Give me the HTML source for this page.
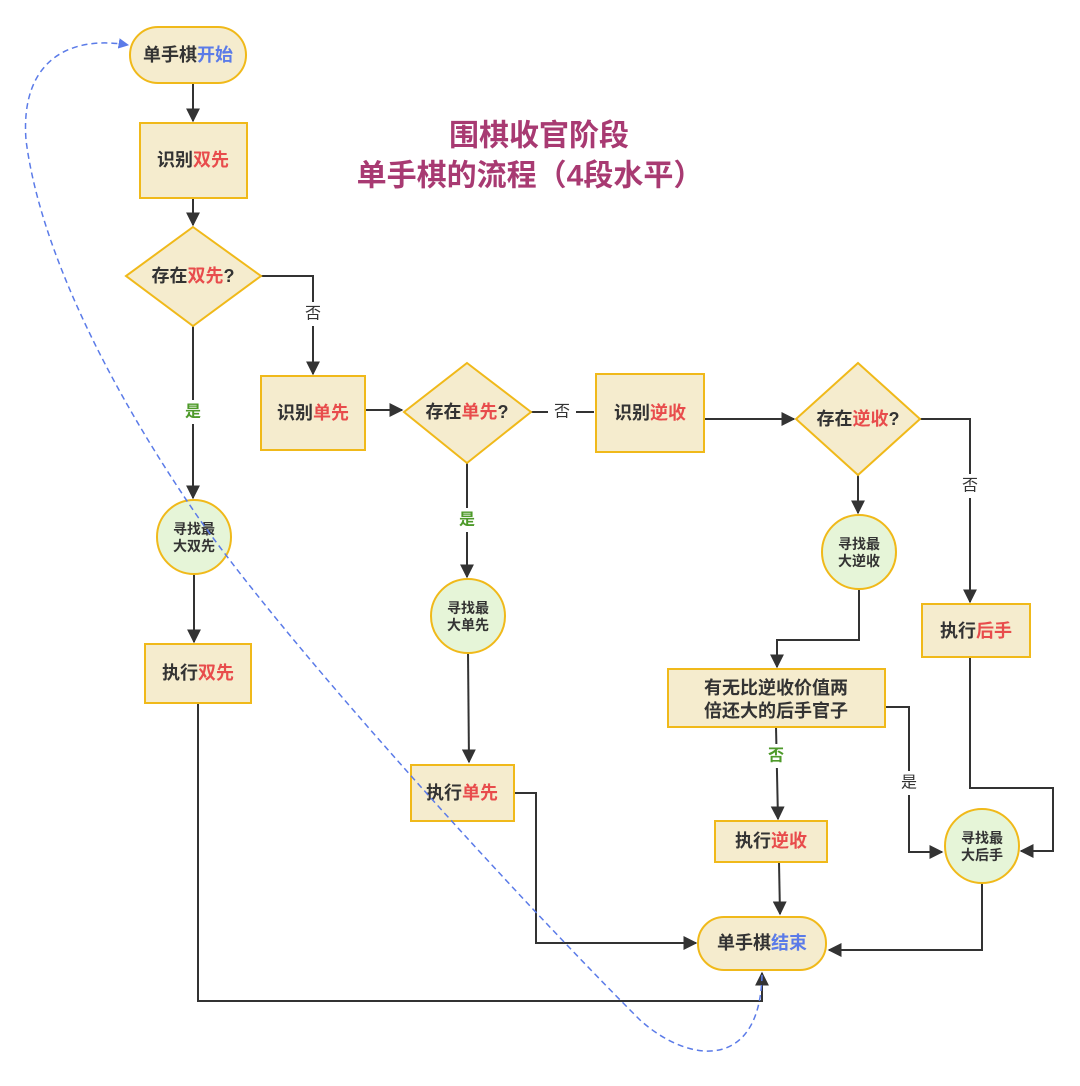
<!DOCTYPE html>
<html><head><meta charset="utf-8"><style>
html,body{margin:0;padding:0;background:#fff}
svg text{font-family:"Liberation Sans","Noto Sans CJK SC",sans-serif;font-weight:bold;fill:#333;text-anchor:middle;dominant-baseline:central}
.r{fill:#e84c4c}.b{fill:#5b7be8}.g{fill:#4e9a2a}
</style></head><body>
<svg width="1080" height="1081" viewBox="0 0 1080 1081" xmlns="http://www.w3.org/2000/svg">
<defs>
<marker id="a" viewBox="0 0 10 10" refX="9" refY="5" markerWidth="7" markerHeight="7" orient="auto-start-reverse"><path d="M0,0L10,5L0,10z" fill="#333"/></marker>
<marker id="ab" viewBox="0 0 10 10" refX="9" refY="5" markerWidth="7" markerHeight="7" orient="auto"><path d="M0,0L10,5L0,10z" fill="#5b7be8"/></marker>
</defs>
<g fill="none" stroke="#333" stroke-width="2">
<path d="M193,83V121" marker-end="url(#a)"/>
<path d="M193,198V225" marker-end="url(#a)"/>
<path d="M261,276H313V374" marker-end="url(#a)"/>
<path d="M193,326V498" marker-end="url(#a)"/>
<path d="M194,574V642" marker-end="url(#a)"/>
<path d="M198,703V1001H762V973" marker-end="url(#a)"/>
<path d="M365,410H402" marker-end="url(#a)"/>
<path d="M531,412H594"/>
<path d="M704,419H794" marker-end="url(#a)"/>
<path d="M920,419H970V602" marker-end="url(#a)"/>
<path d="M970,657V788H1053V851H1021" marker-end="url(#a)"/>
<path d="M858,475V513" marker-end="url(#a)"/>
<path d="M859,590V640H777V667" marker-end="url(#a)"/>
<path d="M885,707H909V852H942" marker-end="url(#a)"/>
<path d="M776,727L778,819" marker-end="url(#a)"/>
<path d="M779,862L780,914" marker-end="url(#a)"/>
<path d="M467,463V577" marker-end="url(#a)"/>
<path d="M468,653L469,762" marker-end="url(#a)"/>
<path d="M514,793H536V943H696" marker-end="url(#a)"/>
<path d="M982,883V950H829" marker-end="url(#a)"/>
</g>
<!-- label backgrounds -->
<g fill="#fff"><rect x="300" y="302" width="26" height="24"/><rect x="180" y="400" width="26" height="24"/><rect x="548" y="400" width="28" height="24"/><rect x="957" y="474" width="26" height="24"/><rect x="454" y="508" width="26" height="24"/><rect x="763" y="744" width="26" height="24"/><rect x="896" y="771" width="26" height="24"/></g>
<text x="313" y="314" style="font-weight:normal">否</text>
<text x="193" y="412" class="g">是</text>
<text x="562" y="412" style="font-weight:normal">否</text>
<text x="970" y="486" style="font-weight:normal">否</text>
<text x="467" y="520" class="g">是</text>
<text x="776" y="756" class="g">否</text>
<text x="909" y="783" style="font-weight:normal">是</text>
<g fill="#f5ecce" stroke="#f0b91a" stroke-width="2">
<rect x="130" y="27" width="116" height="56" rx="28"/>
<rect x="140" y="123" width="107" height="75"/>
<path d="M193,227L261,276L193,326L126,276z"/>
<rect x="261" y="376" width="104" height="74"/>
<path d="M467,363L531,412L467,463L404,412z"/>
<rect x="596" y="374" width="108" height="78"/>
<path d="M858,363L920,419L858,475L796,419z"/>
<rect x="922" y="604" width="108" height="53"/>
<rect x="668" y="669" width="217" height="58"/>
<rect x="715" y="821" width="112" height="41"/>
<rect x="698" y="917" width="128" height="53" rx="26"/>
<rect x="145" y="644" width="106" height="59"/>
<rect x="411" y="765" width="103" height="56"/>
</g>
<g fill="#e6f5d8" stroke="#f0b91a" stroke-width="2">
<circle cx="194" cy="537" r="37"/><circle cx="468" cy="616" r="37"/><circle cx="859" cy="552" r="37"/><circle cx="982" cy="846" r="37"/>
</g>
<g font-size="18">
<text x="188" y="55">单手棋<tspan class="b">开始</tspan></text>
<text x="193" y="160">识别<tspan class="r">双先</tspan></text>
<text x="193" y="276">存在<tspan class="r">双先</tspan>?</text>
<text x="313" y="413">识别<tspan class="r">单先</tspan></text>
<text x="467" y="412">存在<tspan class="r">单先</tspan>?</text>
<text x="650" y="413">识别<tspan class="r">逆收</tspan></text>
<text x="858" y="419">存在<tspan class="r">逆收</tspan>?</text>
<text x="976" y="631">执行<tspan class="r">后手</tspan></text>
<text x="776" y="688">有无比逆收价值两</text>
<text x="776" y="711">倍还大的后手官子</text>
<text x="771" y="841">执行<tspan class="r">逆收</tspan></text>
<text x="762" y="943">单手棋<tspan class="b">结束</tspan></text>
<text x="198" y="673">执行<tspan class="r">双先</tspan></text>
<text x="462" y="793">执行<tspan class="r">单先</tspan></text>
</g>
<g font-size="14">
<text x="194" y="529">寻找最</text><text x="194" y="546">大双先</text>
<text x="468" y="608">寻找最</text><text x="468" y="625">大单先</text>
<text x="859" y="544">寻找最</text><text x="859" y="561">大逆收</text>
<text x="982" y="838">寻找最</text><text x="982" y="855">大后手</text>
</g>
<text x="539" y="136" font-size="30" style="fill:#a83a72">围棋收官阶段</text>
<text x="530" y="176" font-size="30" style="fill:#a83a72">单手棋的流程（4段水平）</text>
<path d="M762,975 C760,1070 690,1065 640,1020 C520,900 300,660 200,520 C110,390 40,250 26,140 C20,60 70,35 128,45" fill="none" stroke="#5b7be8" stroke-width="1.5" stroke-dasharray="6,4" marker-end="url(#ab)"/>
</svg>
</body></html>
